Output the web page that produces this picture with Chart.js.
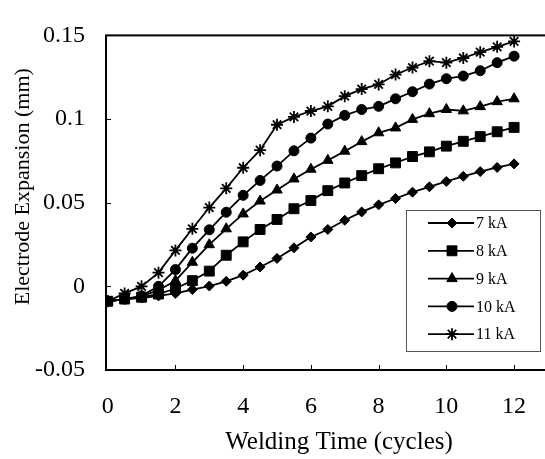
<!DOCTYPE html>
<html>
<head>
<meta charset="utf-8">
<script src="https://cdn.jsdelivr.net/npm/chart.js@4/dist/chart.umd.min.js"></script>
<style>
  html, body { margin: 0; padding: 0; overflow: hidden; background: #fff; }
  #chartFrame { width: 580px; height: 459px; }
</style>
</head>
<body>
<div id="chartFrame"><canvas id="myChart" width="580" height="459"></canvas></div>
<script>
// welding time (cycles) and electrode expansion (mm) per current
var times = [0, 0.5, 1, 1.5, 2, 2.5, 3, 3.5, 4, 4.5, 5, 5.5, 6, 6.5, 7, 7.5, 8, 8.5, 9, 9.5, 10, 10.5, 11, 11.5, 12];
var ka7 = [-0.0089, -0.0076, -0.007, -0.0057, -0.0042, -0.0019, 0.0002, 0.003, 0.0067, 0.0116, 0.0167, 0.023, 0.0295, 0.034, 0.0395, 0.0445, 0.0487, 0.0525, 0.0563, 0.0595, 0.0627, 0.0658, 0.0686, 0.0711, 0.0732];
var ka8 = [-0.0089, -0.0076, -0.0065, -0.0046, -0.0013, 0.0034, 0.0091, 0.0186, 0.0266, 0.034, 0.040, 0.0464, 0.0513, 0.0572, 0.0618, 0.0662, 0.0703, 0.0738, 0.0776, 0.0804, 0.0838, 0.0867, 0.0895, 0.0924, 0.095];
var ka9 = [-0.0089, -0.0076, -0.006, -0.0023, 0.0034, 0.0144, 0.0249, 0.0344, 0.0433, 0.051, 0.0576, 0.0642, 0.070, 0.0753, 0.0808, 0.0865, 0.0918, 0.0947, 0.0998, 0.1032, 0.1057, 0.1049, 0.1074, 0.1104, 0.1121];
var ka10 = [-0.0089, -0.0076, -0.0057, 0.0, 0.010, 0.0228, 0.0338, 0.0443, 0.0544, 0.0633, 0.0719, 0.081, 0.0886, 0.097, 0.1022, 0.1057, 0.1076, 0.1121, 0.1163, 0.1209, 0.1241, 0.1257, 0.1289, 0.1337, 0.1376];
var ka11 = [-0.0089, -0.0042, 0.0, 0.0082, 0.0215, 0.0344, 0.0471, 0.0586, 0.0709, 0.0814, 0.0966, 0.1013, 0.1048, 0.1076, 0.1137, 0.1179, 0.1207, 0.1266, 0.1308, 0.1346, 0.1337, 0.1365, 0.14, 0.1432, 0.1464];
var seriesNames = ['7 kA', '8 kA', '9 kA', '10 kA', '11 kA'];

var xTicks = [0, 2, 4, 6, 8, 10, 12];
var yTicks = [-0.05, 0, 0.05, 0.1, 0.15];
var yTickLabels = ['-0.05', '0', '0.05', '0.1', '0.15'];

// marker look for each series
var markers = [
    { style: 'rectRot', radius: 5 },
    { style: 'rect', radius: 7 },
    { style: 'triangle', radius: 6 },
    { style: 'circle', radius: 5 },
    { style: 'star', radius: 6 }
];

var serif = 'Liberation Serif, Times New Roman, serif';

var datasets = [ka7, ka8, ka9, ka10, ka11].map(function (vals, i) {
    return {
        label: seriesNames[i],
        data: times.map(function (t, j) { return { x: t, y: vals[j] }; }),
        borderColor: '#000',
        borderWidth: 1.8,
        backgroundColor: '#000',
        pointStyle: markers[i].style,
        pointRadius: markers[i].radius,
        pointBackgroundColor: '#000',
        pointBorderColor: '#000',
        pointBorderWidth: markers[i].style === 'star' ? 1.8 : 1,
        tension: 0,
        fill: false
    };
});

// frame round the plot plus small inner tick marks
var framePlugin = {
    id: 'frame',
    afterDraw: function (chart) {
        var ctx = chart.ctx, a = chart.chartArea;
        var xs = chart.scales.x, ys = chart.scales.y;
        ctx.save();
        ctx.strokeStyle = '#000';
        ctx.lineWidth = 2;
        ctx.strokeRect(a.left, a.top, a.right - a.left, a.bottom - a.top);
        ctx.lineWidth = 1;
        xTicks.forEach(function (v) {
            if (v === 0) return;
            var px = Math.round(xs.getPixelForValue(v)) + 0.5;
            ctx.beginPath();
            ctx.moveTo(px, a.bottom);
            ctx.lineTo(px, a.bottom - 5);
            ctx.stroke();
        });
        yTicks.forEach(function (v) {
            var py = Math.round(ys.getPixelForValue(v)) + 0.5;
            ctx.beginPath();
            ctx.moveTo(a.left, py);
            ctx.lineTo(a.left + 5, py);
            ctx.stroke();
        });

        // y axis title
        ctx.fillStyle = '#000';
        ctx.font = '22px ' + serif;
        ctx.textAlign = 'center';
        ctx.textBaseline = 'middle';
        ctx.translate(23, (a.top + a.bottom) / 2 - 16);
        ctx.rotate(-Math.PI / 2);
        ctx.fillText('Electrode Expansion (mm)', 0, 0);
        ctx.restore();
    }
};

// boxed legend inside the plot, lower right
var legendPlugin = {
    id: 'boxLegend',
    afterDraw: function (chart) {
        var ctx = chart.ctx;
        var bx = 406.5, by = 210.5, bw = 134, bh = 141;
        ctx.save();
        ctx.fillStyle = '#fff';
        ctx.fillRect(bx, by, bw, bh);
        ctx.strokeStyle = '#555';
        ctx.lineWidth = 1;
        ctx.strokeRect(bx, by, bw, bh);
        chart.data.datasets.forEach(function (ds, i) {
            var y = 223 + i * 27.8;
            ctx.strokeStyle = '#000';
            ctx.lineWidth = 1.8;
            ctx.beginPath();
            ctx.moveTo(428, y);
            ctx.lineTo(474, y);
            ctx.stroke();
            ctx.fillStyle = '#000';
            ctx.lineWidth = ds.pointBorderWidth;
            Chart.helpers.drawPoint(ctx, {
                pointStyle: ds.pointStyle,
                radius: ds.pointRadius,
                rotation: 0,
                borderWidth: ds.pointBorderWidth
            }, 452, y);
            ctx.font = '16px ' + serif;
            ctx.textAlign = 'left';
            ctx.textBaseline = 'middle';
            ctx.fillText(ds.label, 476, y + 1);
        });
        ctx.restore();
    }
};

var config = {
    type: 'line',
    data: { datasets: datasets },
    options: {
        responsive: false,
        animation: false,
        devicePixelRatio: 1,
        layout: { padding: { top: 20, right: 4, left: 0, bottom: 0 } },
        plugins: {
            legend: { display: false },
            tooltip: { enabled: false }
        },
        scales: {
            x: {
                type: 'linear',
                min: -0.05,
                max: 13.71,
                afterBuildTicks: function (s) { s.ticks = xTicks.map(function (v) { return { value: v }; }); },
                afterFit: function (s) { s.height = 89; },
                grid: { display: false, drawTicks: false },
                border: { display: false },
                ticks: {
                    color: '#000',
                    font: { family: serif, size: 24 },
                    padding: 22,
                    maxRotation: 0,
                    autoSkip: false
                },
                title: {
                    display: true,
                    text: 'Welding Time (cycles)',
                    color: '#000',
                    font: { family: serif, size: 25 },
                    padding: { top: 0, bottom: 2 }
                }
            },
            y: {
                type: 'linear',
                min: -0.05,
                max: 0.15,
                afterBuildTicks: function (s) { s.ticks = yTicks.map(function (v) { return { value: v }; }); },
                afterFit: function (s) { s.width = 106; },
                grid: { display: false, drawTicks: false },
                border: { display: false },
                ticks: {
                    color: '#000',
                    font: { family: serif, size: 24 },
                    padding: 21,
                    callback: function (v, i) { return yTickLabels[i]; }
                }
            }
        }
    },
    plugins: [framePlugin, legendPlugin]
};

var ctx = document.getElementById('myChart').getContext('2d');
var myChart = new Chart(ctx, config);
</script>
</body>
</html>
